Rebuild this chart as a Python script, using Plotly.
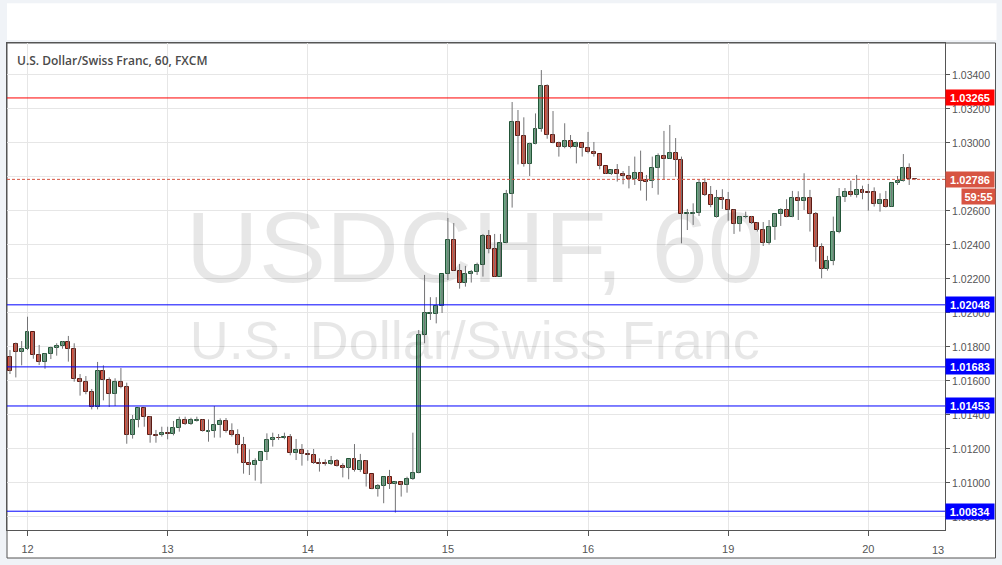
import plotly.graph_objects as go

# ---------------- data ----------------
title_text = "U.S. Dollar/Swiss Franc, 60, FXCM"
wm_symbol = "USDCHF, 60"
wm_name = "U.S. Dollar/Swiss Franc"

open_p = [
    1.01739, 1.01818, 1.01769, 1.01786, 1.01886, 1.01751, 1.01710, 1.01757, 1.01792, 1.01806,
    1.01827, 1.01786, 1.01610, 1.01592, 1.01533, 1.01449, 1.01657, 1.01604, 1.01522, 1.01592,
    1.01563, 1.01280, 1.01369, 1.01441, 1.01386, 1.01282, 1.01280, 1.01296, 1.01286, 1.01322,
    1.01372, 1.01345, 1.01367, 1.01369, 1.01302, 1.01304, 1.01339, 1.01363, 1.01304, 1.01280,
    1.01222, 1.01116, 1.01104, 1.01128, 1.01180, 1.01251, 1.01267, 1.01267, 1.01269, 1.01174,
    1.01192, 1.01169, 1.01163, 1.01118, 1.01118, 1.01110, 1.01128, 1.01100, 1.01086, 1.01139,
    1.01075, 1.01128, 1.01051, 1.00963, 1.00981, 1.01033, 1.00992, 1.01004, 1.00986, 1.01022,
    1.01057, 1.01869, 1.01994, 1.01994, 1.02043, 1.02228, 1.02428, 1.02249, 1.02175, 1.02228,
    1.02240, 1.02281, 1.02451, 1.02375, 1.02214, 1.02410, 1.02698, 1.03121, 1.03043, 1.02874,
    1.02992, 1.03080, 1.03333, 1.03045, 1.02998, 1.02974, 1.03010, 1.02974, 1.02998, 1.02969,
    1.02945, 1.02933, 1.02863, 1.02816, 1.02839, 1.02816, 1.02804, 1.02786, 1.02822, 1.02782,
    1.02775, 1.02851, 1.02921, 1.02908, 1.02939, 1.02898, 1.02581, 1.02584, 1.02586, 1.02763,
    1.02696, 1.02567, 1.02675, 1.02667, 1.02604, 1.02522, 1.02565, 1.02567, 1.02531, 1.02486,
    1.02410, 1.02504, 1.02581, 1.02604, 1.02567, 1.02675, 1.02661, 1.02675, 1.02581, 1.02390,
    1.02257, 1.02308, 1.02475, 1.02680, 1.02710, 1.02692, 1.02722, 1.02712, 1.02710, 1.02639,
    1.02663, 1.02626, 1.02763, 1.02777, 1.02851, 1.02790,
]
high_p = [
    1.01782, 1.01826, 1.01835, 1.01978, 1.01886, 1.01812, 1.01763, 1.01802, 1.01822, 1.01835,
    1.01865, 1.01822, 1.01641, 1.01629, 1.01553, 1.01712, 1.01692, 1.01621, 1.01616, 1.01676,
    1.01590, 1.01400, 1.01445, 1.01445, 1.01394, 1.01312, 1.01331, 1.01331, 1.01365, 1.01390,
    1.01390, 1.01384, 1.01390, 1.01374, 1.01374, 1.01453, 1.01380, 1.01382, 1.01351, 1.01316,
    1.01271, 1.01198, 1.01145, 1.01180, 1.01292, 1.01296, 1.01288, 1.01296, 1.01288, 1.01259,
    1.01229, 1.01194, 1.01200, 1.01145, 1.01139, 1.01159, 1.01141, 1.01116, 1.01141, 1.01229,
    1.01171, 1.01135, 1.01051, 1.00994, 1.01037, 1.01077, 1.01012, 1.01008, 1.01037, 1.01296,
    1.01900, 1.02224, 1.02093, 1.02093, 1.02228, 1.02559, 1.02529, 1.02288, 1.02277, 1.02253,
    1.02296, 1.02465, 1.02488, 1.02465, 1.02465, 1.02724, 1.03241, 1.03194, 1.03151, 1.03002,
    1.03174, 1.03429, 1.03345, 1.03188, 1.03008, 1.03116, 1.03047, 1.03008, 1.02998, 1.03065,
    1.03006, 1.02933, 1.02863, 1.02845, 1.02876, 1.02835, 1.02865, 1.02920, 1.02955, 1.02812,
    1.02920, 1.02939, 1.03071, 1.03106, 1.03029, 1.02920, 1.02612, 1.02645, 1.02786, 1.02792,
    1.02747, 1.02724, 1.02728, 1.02712, 1.02610, 1.02571, 1.02596, 1.02571, 1.02535, 1.02535,
    1.02547, 1.02584, 1.02616, 1.02669, 1.02718, 1.02716, 1.02822, 1.02724, 1.02594, 1.02410,
    1.02336, 1.02567, 1.02735, 1.02735, 1.02778, 1.02812, 1.02749, 1.02759, 1.02739, 1.02704,
    1.02718, 1.02767, 1.02806, 1.02935, 1.02880, 1.02792,
]
low_p = [
    1.01641, 1.01621, 1.01692, 1.01782, 1.01731, 1.01694, 1.01672, 1.01729, 1.01749, 1.01790,
    1.01714, 1.01596, 1.01514, 1.01522, 1.01433, 1.01433, 1.01486, 1.01447, 1.01453, 1.01557,
    1.01231, 1.01261, 1.01327, 1.01331, 1.01237, 1.01237, 1.01273, 1.01257, 1.01280, 1.01302,
    1.01341, 1.01341, 1.01361, 1.01302, 1.01243, 1.01267, 1.01267, 1.01296, 1.01273, 1.01174,
    1.01055, 1.01047, 1.01014, 1.00996, 1.01135, 1.01214, 1.01253, 1.01257, 1.01163, 1.01135,
    1.01102, 1.01131, 1.01112, 1.01067, 1.01102, 1.01106, 1.01096, 1.01033, 1.01022, 1.01067,
    1.01065, 1.00979, 1.00963, 1.00920, 1.00881, 1.00965, 1.00826, 1.00920, 1.00943, 1.01018,
    1.01057, 1.01822, 1.01959, 1.01939, 1.02000, 1.02194, 1.02249, 1.02143, 1.02155, 1.02179,
    1.02224, 1.02214, 1.02351, 1.02214, 1.02214, 1.02410, 1.02620, 1.02874, 1.02861, 1.02806,
    1.02992, 1.03066, 1.03025, 1.02998, 1.02920, 1.02969, 1.02969, 1.02880, 1.02920, 1.02939,
    1.02920, 1.02845, 1.02818, 1.02812, 1.02773, 1.02757, 1.02733, 1.02753, 1.02720, 1.02661,
    1.02735, 1.02696, 1.02786, 1.02908, 1.02802, 1.02410, 1.02488, 1.02518, 1.02571, 1.02688,
    1.02622, 1.02561, 1.02612, 1.02543, 1.02465, 1.02479, 1.02557, 1.02524, 1.02479, 1.02394,
    1.02402, 1.02430, 1.02512, 1.02563, 1.02563, 1.02547, 1.02606, 1.02479, 1.02302, 1.02204,
    1.02249, 1.02281, 1.02469, 1.02653, 1.02684, 1.02679, 1.02669, 1.02602, 1.02626, 1.02596,
    1.02620, 1.02626, 1.02753, 1.02773, 1.02753, 1.02782,
]
close_p = [
    1.01657, 1.01769, 1.01786, 1.01886, 1.01751, 1.01710, 1.01757, 1.01792, 1.01806, 1.01827,
    1.01786, 1.01610, 1.01592, 1.01533, 1.01449, 1.01657, 1.01604, 1.01522, 1.01592, 1.01563,
    1.01280, 1.01369, 1.01441, 1.01386, 1.01280, 1.01278, 1.01296, 1.01286, 1.01322, 1.01372,
    1.01345, 1.01369, 1.01371, 1.01304, 1.01306, 1.01339, 1.01363, 1.01304, 1.01280, 1.01222,
    1.01116, 1.01104, 1.01128, 1.01180, 1.01251, 1.01265, 1.01263, 1.01271, 1.01174, 1.01192,
    1.01169, 1.01163, 1.01116, 1.01114, 1.01110, 1.01128, 1.01100, 1.01086, 1.01139, 1.01075,
    1.01128, 1.01051, 1.00963, 1.00981, 1.01033, 1.00992, 1.01004, 1.00986, 1.01022, 1.01057,
    1.01869, 1.01998, 1.01998, 1.02043, 1.02228, 1.02428, 1.02249, 1.02175, 1.02228, 1.02240,
    1.02281, 1.02451, 1.02375, 1.02214, 1.02410, 1.02698, 1.03121, 1.03043, 1.02874, 1.02992,
    1.03080, 1.03333, 1.03045, 1.02998, 1.02974, 1.03010, 1.02974, 1.02998, 1.02969, 1.02945,
    1.02933, 1.02863, 1.02818, 1.02839, 1.02816, 1.02804, 1.02786, 1.02822, 1.02778, 1.02773,
    1.02851, 1.02921, 1.02908, 1.02939, 1.02898, 1.02581, 1.02586, 1.02586, 1.02763, 1.02696,
    1.02633, 1.02675, 1.02667, 1.02604, 1.02522, 1.02563, 1.02567, 1.02531, 1.02486, 1.02410,
    1.02504, 1.02581, 1.02604, 1.02567, 1.02675, 1.02661, 1.02675, 1.02581, 1.02390, 1.02257,
    1.02308, 1.02475, 1.02680, 1.02710, 1.02692, 1.02722, 1.02708, 1.02708, 1.02639, 1.02663,
    1.02626, 1.02763, 1.02777, 1.02851, 1.02790, 1.02786,
]

# bar index of 00:00 of each trading day (hourly bars, weekend removed)
day_start_idx = [3, 27, 51, 75, 99, 123, 147]
day_labels = ["12", "13", "14", "15", "16", "19", "20"]
hour_tick_idx = 159
hour_tick_label = "13"

level_prices = [1.03265, 1.02048, 1.01683, 1.01453, 1.00834]
level_colors = ["#ff0000", "#0000ff", "#0000ff", "#0000ff", "#0000ff"]
countdown_text = "59:55"

# ---------------- styling ----------------
UP_FILL, UP_LINE = "#6ba583", "#225437"
DN_FILL, DN_LINE = "#d75442", "#5b1a13"
WICK = "#737375"
GRID = "#e6e6e6"
AXIS = "#555555"
TXT = "#555555"
BG = "#f0f3f7"

W, H = 1002, 565
ML, MR, MT, MB = 7, 57, 43, 35
PW, PH = W - ML - MR, H - MT - MB


def px_x(p):
    return (p - ML) / PW


def px_y(p):
    return (H - MB - p) / PH


n = len(open_p)
xs = list(range(n))
last_price = close_p[-1]

wick_x, wick_y = [], []
for i in xs:
    wick_x += [i, i, None]
    wick_y += [low_p[i], high_p[i], None]

is_up = [c >= o for o, c in zip(open_p, close_p)]
body_base = [min(o, c) for o, c in zip(open_p, close_p)]
body_h = [max(abs(c - o), 0.000015) for o, c in zip(open_p, close_p)]
fill_cols = [UP_FILL if u else DN_FILL for u in is_up]
line_cols = [UP_LINE if u else DN_LINE for u in is_up]

fig = go.Figure()

# watermark (below candles)
fig.add_trace(go.Scatter(
    x=[79.6, 79.6], y=[1.02329, 1.01806], mode="text",
    text=[wm_symbol, wm_name],
    textfont=dict(family="Liberation Sans", size=[101, 54], color="rgba(0,0,0,0.095)"),
    hoverinfo="skip", showlegend=False, cliponaxis=False,
))

fig.add_trace(go.Scatter(
    x=wick_x, y=wick_y, mode="lines",
    line=dict(color=WICK, width=1), hoverinfo="skip", showlegend=False,
))

fig.add_trace(go.Bar(
    x=xs, y=body_h, base=body_base, width=0.68,
    marker=dict(color=fill_cols, line=dict(color=line_cols, width=1)),
    showlegend=False, hoverinfo="skip",
))

shapes = [
    dict(type="rect", xref="paper", yref="paper", x0=0, x1=px_x(995.5),
         y0=px_y(558), y1=1, fillcolor="white", line=dict(color=AXIS, width=1), layer="below"),
    dict(type="rect", xref="paper", yref="paper", x0=0, x1=px_x(996.5),
         y0=px_y(40), y1=px_y(3.3), fillcolor="white", line=dict(width=0), layer="below"),
    dict(type="line", xref="paper", yref="y", x0=0, x1=1, y0=last_price, y1=last_price,
         line=dict(color=DN_FILL, width=1, dash="3px,2px"), layer="above"),
]
for p, c in zip(level_prices, level_colors):
    shapes.append(dict(type="line", xref="paper", yref="y", x0=0, x1=1, y0=p, y1=p,
                       line=dict(color=c, width=1), layer="above"))

annotations = [
    dict(text=title_text, xref="paper", yref="paper", x=px_x(15), y=px_y(60),
         xanchor="left", yanchor="middle", showarrow=False,
         font=dict(family="Open Sans", size=12, color="#4a4a4a", weight=600)),
    dict(text=hour_tick_label, xref="x", yref="paper", x=hour_tick_idx, y=px_y(550),
         xanchor="center", yanchor="middle", showarrow=False,
         font=dict(family="Liberation Sans", size=11, color=TXT)),
]
for p, c in zip(level_prices, level_colors):
    annotations.append(dict(
        text=f"<b>{p:.5f}</b>", xref="paper", yref="y", x=1, y=p,
        xanchor="left", yanchor="middle", showarrow=False,
        bgcolor=c, width=46, height=13, borderpad=1,
        font=dict(family="Liberation Sans", size=11, color="white")))
annotations.append(dict(
    text=f"<b>{last_price:.5f}</b>", xref="paper", yref="y", x=1, y=last_price,
    xanchor="left", yanchor="middle", showarrow=False,
    bgcolor=DN_FILL, width=46, height=13, borderpad=1,
    font=dict(family="Liberation Sans", size=11, color="white")))
annotations.append(dict(
    text=f"<b>{countdown_text}</b>", xref="paper", yref="y", x=px_x(961), y=last_price,
    yshift=-17, xanchor="left", yanchor="middle", showarrow=False,
    bgcolor=DN_FILL, width=31, height=13, borderpad=1,
    font=dict(family="Liberation Sans", size=11, color="white")))

fig.update_layout(
    width=W, height=H,
    margin=dict(l=ML, r=MR, t=MT, b=MB, pad=0),
    paper_bgcolor=BG, plot_bgcolor="white",
    showlegend=False, bargap=0,
    shapes=shapes, annotations=annotations,
    xaxis=dict(
        range=[-0.51, 160.13], tickmode="array", tickvals=day_start_idx, ticktext=day_labels,
        showgrid=True, gridcolor=GRID, gridwidth=1, zeroline=False,
        showline=True, linecolor=AXIS, linewidth=1, mirror=True,
        ticks="outside", ticklen=5, tickcolor=AXIS, ticklabelstandoff=4,
        tickfont=dict(family="Liberation Sans", size=11, color=TXT), fixedrange=True,
    ),
    yaxis=dict(
        side="right", range=[1.007235, 1.035882], tick0=1.008, dtick=0.002, tickformat=".5f",
        showgrid=True, gridcolor=GRID, gridwidth=1, zeroline=False,
        showline=True, linecolor=AXIS, linewidth=1, mirror=True,
        ticks="outside", ticklen=4, tickcolor=AXIS,
        tickfont=dict(family="Liberation Sans", size=10.5, color=TXT), fixedrange=True,
    ),
)

fig.write_html("out.html", config={"displayModeBar": False},
               post_script="document.body.style.margin='0';document.body.style.overflow='hidden';")
